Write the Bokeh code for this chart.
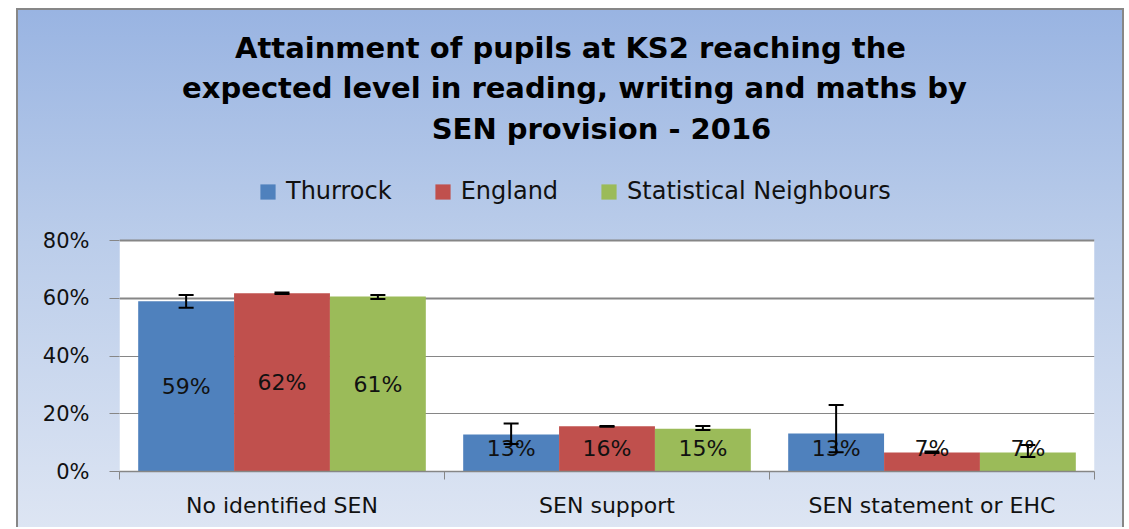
from bokeh.plotting import figure
from bokeh.models import (ColumnDataSource, Whisker, TeeHead, Legend, LegendItem, Grid,
                          FixedTicker, NumeralTickFormatter, Range1d)
from bokeh.embed import file_html
from bokeh.resources import INLINE
from bokeh.core.properties import value

# ---------------- data ----------------
categories = ["No identified SEN", "SEN support", "SEN statement or EHC"]
series = ["Thurrock", "England", "Statistical Neighbours"]
colors = ["#4F81BD", "#C0504D", "#9BBB59"]

thurrock = [0.590, 0.128, 0.132]
england = [0.617, 0.157, 0.066]
stat_neighbours = [0.606, 0.148, 0.066]

thurrock_lo = [0.567, 0.095, 0.067]
thurrock_hi = [0.611, 0.166, 0.230]
england_lo = [0.615, 0.155, 0.064]
england_hi = [0.620, 0.158, 0.069]
sn_lo = [0.597, 0.144, 0.050]
sn_hi = [0.611, 0.158, 0.092]

y_ticks = [0, 0.2, 0.4, 0.6, 0.8]
y_max_value = 0.8
title_lines = ["Attainment of pupils at KS2 reaching the",
               "expected level in reading, writing and maths by",
               "SEN provision - 2016"]

values = [thurrock, england, stat_neighbours]
lows = [thurrock_lo, england_lo, sn_lo]
highs = [thurrock_hi, england_hi, sn_hi]

# ---------------- layout constants (pixels) ----------------
W, H = 1108, 519
border_left, border_right, border_bottom = 101, 32, 58
plot_px = 231                      # height of the 0..80% area in px
frame_h = H - border_bottom        # frame spans from canvas top to the x axis
frame_w = W - border_left - border_right
per_px = y_max_value / plot_px     # data units per px (y)
x_per_px = len(categories) / frame_w


def px_y(px_above_axis):
    return px_above_axis * per_px


def px_x(px_from_left):
    return px_from_left * x_per_px


# ---------------- figure ----------------
p = figure(width=W, height=H, output_backend="svg", toolbar_location=None,
           x_range=Range1d(0, len(categories)), y_range=Range1d(0, frame_h * per_px), title=None,
           min_border_left=border_left, min_border_right=border_right,
           min_border_top=0, min_border_bottom=border_bottom)
p.styles = {"background": "linear-gradient(180deg, #99B4E2 0%, #BBCDEA 45%, #DDE5F3 100%)",
            "border-top": "2px solid #878787", "border-left": "2px solid #878787",
            "border-right": "2px solid #878787",
            "margin-left": "16px", "margin-top": "8px"}
p.border_fill_color = None
p.background_fill_color = None
p.outline_line_color = None

# white plot area (0% .. 80%)
p.quad(left=[0], right=[len(categories)], bottom=[0], top=[y_max_value],
       fill_color="white", line_color=None, level="image")

bar_w = 0.295
offsets = [-bar_w, 0.0, bar_w]
renderers = []
for s, name in enumerate(series):
    xs = [i + 0.5 + offsets[s] for i in range(len(categories))]
    vals = values[s]
    src = ColumnDataSource(dict(
        x=xs, top=vals, lo=lows[s], hi=highs[s],
        ly=[max(v / 2, 0.08) for v in vals],
        label=[f"{round(v * 100)}%" for v in vals],
    ))
    r = p.vbar(x="x", top="top", width=bar_w, bottom=0, source=src,
               fill_color=colors[s], line_color=None)
    renderers.append(r)
    wh = Whisker(source=src, base="x", lower="lo", upper="hi", line_color="black", line_width=2,
                 level="overlay",
                 upper_head=TeeHead(size=15, line_width=2, line_color="black"),
                 lower_head=TeeHead(size=15, line_width=2, line_color="black"))
    p.add_layout(wh)
    p.text(x="x", y="ly", text="label", source=src, text_font=value("DejaVu Sans"),
           text_font_size="22px", text_align="center", text_baseline="middle",
           text_color="#111111")

# ---------------- axes ----------------
p.yaxis.ticker = FixedTicker(ticks=y_ticks)
p.yaxis.formatter = NumeralTickFormatter(format="0%")
p.yaxis.axis_line_color = None
p.yaxis.major_tick_out = 10
p.yaxis.major_tick_in = 0
p.yaxis.major_tick_line_color = "#868686"
p.yaxis.minor_tick_line_color = None
p.yaxis.major_label_standoff = 20
p.yaxis.major_label_text_font = "DejaVu Sans"
p.yaxis.major_label_text_font_size = "21px"
p.yaxis.major_label_text_color = "#111111"

p.xaxis.ticker = FixedTicker(ticks=[i + 0.5 for i in range(len(categories))],
                             minor_ticks=list(range(len(categories) + 1)))
p.xaxis.major_label_overrides = {i + 0.5: c for i, c in enumerate(categories)}
p.xaxis.axis_line_color = "#868686"
p.xaxis.axis_line_width = 1.5
p.xaxis.major_tick_out = 0
p.xaxis.major_tick_in = 0
p.xaxis.minor_tick_out = 8
p.xaxis.minor_tick_in = 0
p.xaxis.minor_tick_line_color = "#868686"
p.xaxis.major_label_standoff = 13
p.xaxis.major_label_text_font = "DejaVu Sans"
p.xaxis.major_label_text_font_size = "22px"
p.xaxis.major_label_text_color = "#111111"

p.xgrid.grid_line_color = None
p.ygrid.ticker = FixedTicker(ticks=y_ticks[1:3])
p.ygrid.grid_line_color = "#868686"
p.ygrid.grid_line_width = 1
upper_grid = Grid(dimension=1, ticker=FixedTicker(ticks=y_ticks[3:]),
                  grid_line_color="#868686", grid_line_width=2)
p.add_layout(upper_grid)

# ---------------- title (text in the space above the 80% line) ----------------
title_src = ColumnDataSource(dict(
    x=[px_x(451), px_x(455), px_x(482)],      # horizontal centres, px from frame left
    y=[px_y(424), px_y(384), px_y(343)],      # baselines, px above the x axis
    text=title_lines,
))
p.text(x="x", y="y", text="text", source=title_src, text_font=value("DejaVu Sans"),
       text_font_style="bold", text_font_size="29px", text_align="center",
       text_baseline="alphabetic", text_color="black")

# ---------------- legend ----------------
legend = Legend(items=[LegendItem(label=n, renderers=[r]) for n, r in zip(series, renderers)],
                location=(139, 266), orientation="horizontal", padding=0, margin=0, spacing=41,
                glyph_width=19, glyph_height=19, label_standoff=9,
                label_text_font="DejaVu Sans", label_text_font_size="24px",
                label_text_color="#111111", label_height=28,
                background_fill_alpha=0, border_line_color=None)
p.add_layout(legend)

open("out.html", "w").write(file_html(p, INLINE))
